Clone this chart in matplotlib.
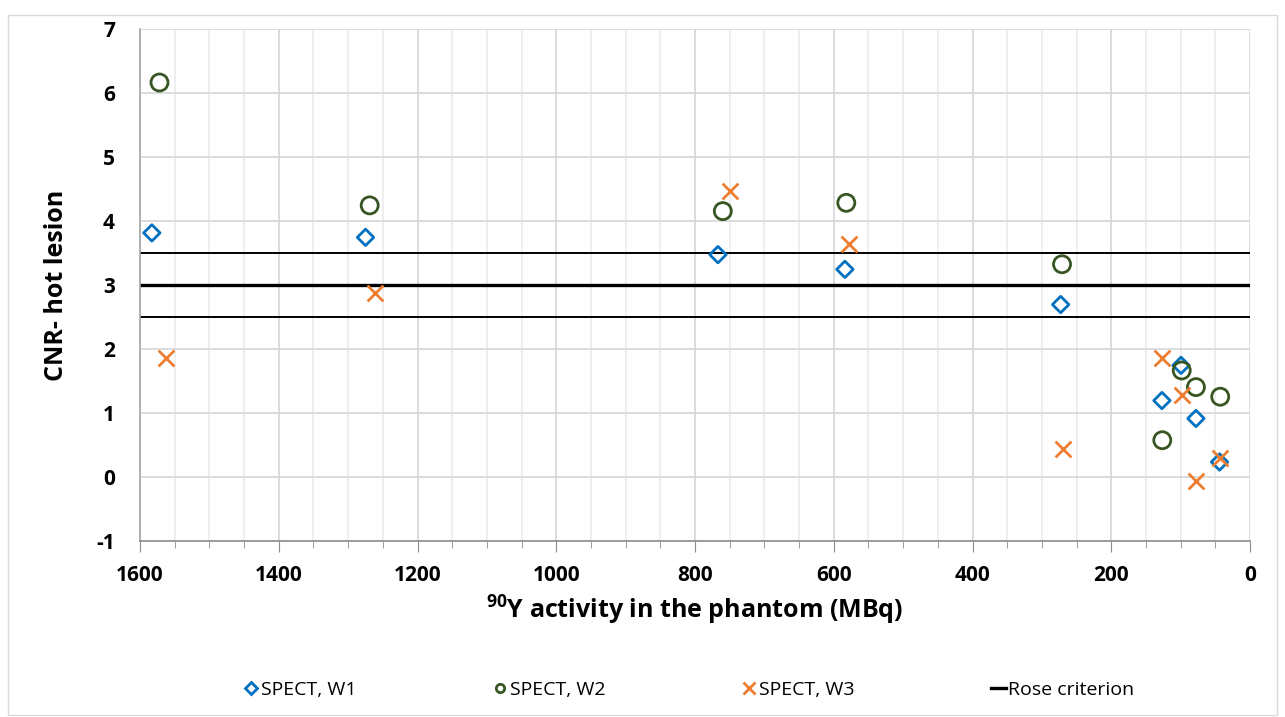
import matplotlib.pyplot as plt
from matplotlib.lines import Line2D
from matplotlib.patches import Rectangle
from matplotlib.ticker import MultipleLocator

# activity (MBq) and CNR values per reconstruction
w1_x = [1583, 1275, 767, 584, 273, 127, 99.5, 78, 44]
w1_y = [3.82, 3.75, 3.48, 3.25, 2.70, 1.20, 1.75, 0.92, 0.24]
w2_x = [1572, 1269, 760, 582, 271, 126.5, 98.5, 78, 43]
w2_y = [6.17, 4.25, 4.16, 4.29, 3.33, 0.58, 1.67, 1.41, 1.26]
w3_x = [1562, 1262, 750, 578, 270, 126.5, 98.5, 78, 43]
w3_y = [1.87, 2.88, 4.47, 3.64, 0.44, 1.86, 1.29, -0.05, 0.30]

rose_level = 3.0
rose_band = [2.5, 3.5]

x_ticks = [1600, 1400, 1200, 1000, 800, 600, 400, 200, 0]
y_ticks = [-1, 0, 1, 2, 3, 4, 5, 6, 7]

BLUE = "#0070C0"
GREEN = "#375623"
ORANGE = "#ED7D31"

plt.rcParams["font.family"] = ["Open Sans", "DejaVu Sans"]
plt.rcParams["axes.unicode_minus"] = False
plt.rcParams["mathtext.fontset"] = "custom"
plt.rcParams["mathtext.rm"] = "Open Sans"
plt.rcParams["mathtext.bf"] = "Open Sans:bold"

fig = plt.figure(figsize=(12.85, 7.17), dpi=100)
ax = fig.add_axes([0.109, 0.245, 0.8638, 0.714])

fig.patches.append(Rectangle((0.006, 0.003), 0.988, 0.976, transform=fig.transFigure,
                             fill=False, edgecolor="#D9D9D9", linewidth=1))

ax.set_xlim(1600, 0)
ax.set_ylim(-1, 7)
ax.xaxis.set_major_locator(MultipleLocator(200))
ax.xaxis.set_minor_locator(MultipleLocator(50))
ax.set_xticks(x_ticks)
ax.set_yticks(y_ticks)

ax.grid(True, which="major", color="#D9D9D9", linewidth=1.3)
ax.grid(True, which="minor", axis="x", color="#EDEDED", linewidth=1.3)
ax.set_axisbelow(True)

for s in ["top", "right"]:
    ax.spines[s].set_visible(False)
ax.spines["left"].set_color("#A6A6A6")
ax.spines["bottom"].set_color("#8C8C8C")
ax.spines["left"].set_linewidth(1.2)
ax.spines["bottom"].set_linewidth(1.2)

ax.tick_params(axis="y", length=0, pad=18, labelsize=15)
ax.tick_params(axis="x", which="major", length=8, color="#8C8C8C", pad=9, labelsize=15)
ax.tick_params(axis="x", which="minor", length=5, color="#8C8C8C")
for lbl in ax.get_xticklabels() + ax.get_yticklabels():
    lbl.set_fontweight("bold")

ax.axhline(rose_level, color="black", linewidth=2.4, zorder=2)
for lv in rose_band:
    ax.axhline(lv, color="black", linewidth=1.4, zorder=2)

ax.scatter(w1_x, w1_y, marker="D", s=70, facecolors="none", edgecolors=BLUE,
           linewidths=2, zorder=3)
ax.scatter(w2_x, w2_y, marker="o", s=150, facecolors="none", edgecolors=GREEN,
           linewidths=2, zorder=3)
ax.scatter(w3_x, w3_y, marker="x", s=130, color=ORANGE, linewidths=2, zorder=3)

ax.set_ylabel("CNR- hot lesion", fontsize=18, fontweight="bold", labelpad=20)
ax.set_xlabel("$^{\\mathbf{90}}$Y activity in the phantom (MBq)", fontsize=18,
              fontweight="bold", labelpad=6)

handles = [
    Line2D([], [], marker="D", color=BLUE, markerfacecolor="none", linestyle="none",
           markersize=6, markeredgewidth=2),
    Line2D([], [], marker="o", color=GREEN, markerfacecolor="none", linestyle="none",
           markersize=6, markeredgewidth=2),
    Line2D([], [], marker="x", color=ORANGE, linestyle="none",
           markersize=8, markeredgewidth=2),
    Line2D([], [], color="black", linewidth=2.4),
]
labels = ["SPECT, W1", "SPECT, W2", "SPECT, W3", "Rose criterion"]
fig.legend(handles, labels, loc="center", bbox_to_anchor=(0.536, 0.038), ncol=4,
           frameon=False, fontsize=14, handlelength=0.8, handletextpad=0.1,
           columnspacing=7.0)

fig.savefig("out.png", dpi=100)
